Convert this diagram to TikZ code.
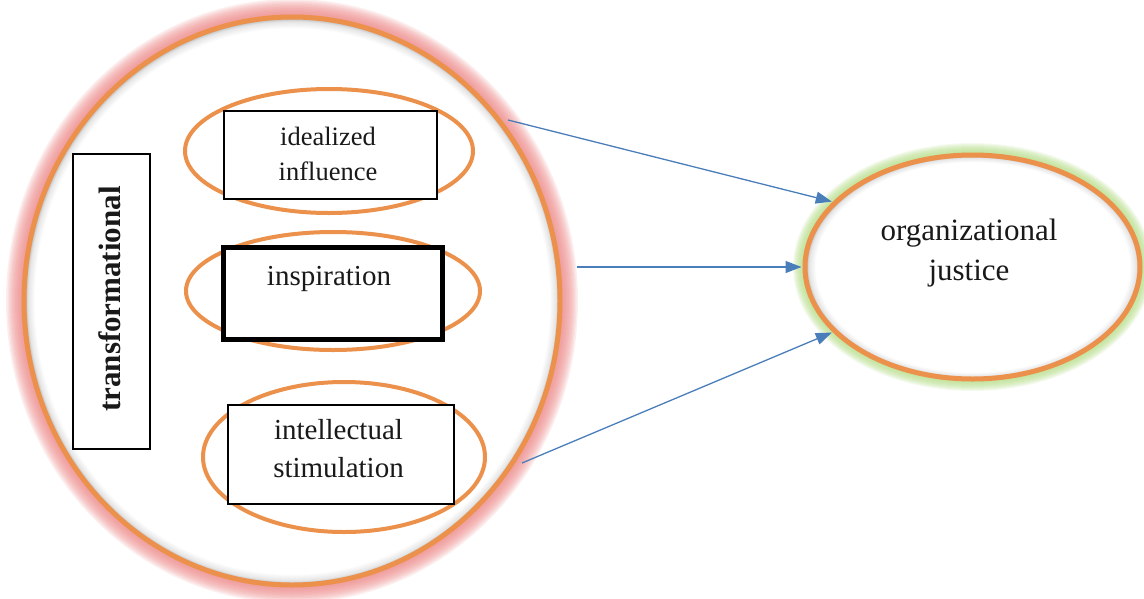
\documentclass[tikz,border=0pt]{standalone}
\usepackage{fontspec}
\setmainfont{Liberation Serif}
\usetikzlibrary{shapes.geometric,arrows.meta}
\definecolor{orng}{HTML}{EB914B}
\definecolor{pinkg}{HTML}{F08C8C}
\definecolor{greeng}{HTML}{B8E08A}
\definecolor{arrblue}{HTML}{4A7EBB}
\pgfdeclareradialshading{bigglow}{\pgfpoint{0bp}{0bp}}{color(0bp)=(white); color(24bp)=(white); color(24.6bp)=(black!10); color(25bp)=(black!32); color(50bp)=(black!32)}
\pgfdeclareradialshading{smallglow}{\pgfpoint{0bp}{0bp}}{color(0bp)=(white); color(23.4bp)=(white); color(24.4bp)=(black!10); color(25bp)=(black!32); color(50bp)=(black!32)}
\begin{document}
\begin{tikzpicture}[x=1pt,y=-1pt,
  bigell/.style={ellipse, draw=orng, line width=5pt, inner sep=0pt, shade, shading=bigglow},
  ojell/.style={ellipse, draw=orng, line width=5pt, inner sep=0pt, shade, shading=smallglow},
  subell/.style={ellipse, draw=orng, line width=4pt, inner sep=0pt},
  box/.style={rectangle, draw=black, fill=white, line width=1.3pt, inner sep=0pt},
  lbl/.style={align=center, inner sep=0pt, text=black!90},
  conn/.style={draw=arrblue, line width=1.3pt, -{Triangle[length=16pt,width=12pt]}, shorten >=1pt}
]
\useasboundingbox (0,0) rectangle (1144,598);
\fill[white] (0,0) rectangle (1144,598);

% glows
\foreach \w in {3,6,...,36}
  \draw[pinkg, line width=\w pt, opacity=0.14] (292,301) ellipse [x radius=268pt, y radius=284pt];
\foreach \w in {2,4,...,24}
  \draw[greeng, line width=\w pt, opacity=0.14] (972.5,267) ellipse [x radius=167.5pt, y radius=112pt];

% main ellipses
\node[bigell, minimum width=536pt, minimum height=568pt] (trans) at (292,301) {};
\node[ojell, minimum width=335pt, minimum height=224pt] (oj) at (972.5,267) {};

% inner ellipses
\node[subell, minimum width=288pt, minimum height=124pt] (e1) at (329,151) {};
\node[subell, minimum width=294pt, minimum height=118pt] (e2) at (333,291) {};
\node[subell, minimum width=282pt, minimum height=150pt] (e3) at (344,457) {};

% boxes
\node[box, minimum width=77pt, minimum height=295pt] (b0) at (111.5,301.5) {};
\node[box, minimum width=213pt, minimum height=88pt] (b1) at (330.5,155) {};
\node[box, line width=5pt, minimum width=219pt, minimum height=92pt] (b2) at (333,293.5) {};
\node[box, minimum width=226pt, minimum height=99pt] (b3) at (341,454.5) {};

% texts
\node[lbl, font=\bfseries\fontsize{31}{36}\selectfont, rotate=90] (t0) at (110,299) {transformational};
\node[lbl, font=\fontsize{26.5}{35}\selectfont] (t1) at (328,153.6) {idealized\\influence};
\node[lbl, font=\fontsize{29}{36}\selectfont, anchor=base] (t2) at (329,285) {inspiration};
\node[lbl, font=\fontsize{29}{38}\selectfont] (t3) at (338.5,449) {intellectual\\stimulation};
\node[lbl, font=\fontsize{31}{40}\selectfont] (t4) at (969,252.7) {organizational\\justice};

% connectors
\coordinate (s1) at (508,120);
\coordinate (s2) at (577,267);
\coordinate (s3) at (522,463);
\draw[conn] (s1) -- (oj.155);
\draw[conn] (s2) -- (oj.west);
\draw[conn] (s3) -- (oj.205);
\end{tikzpicture}
\end{document}
